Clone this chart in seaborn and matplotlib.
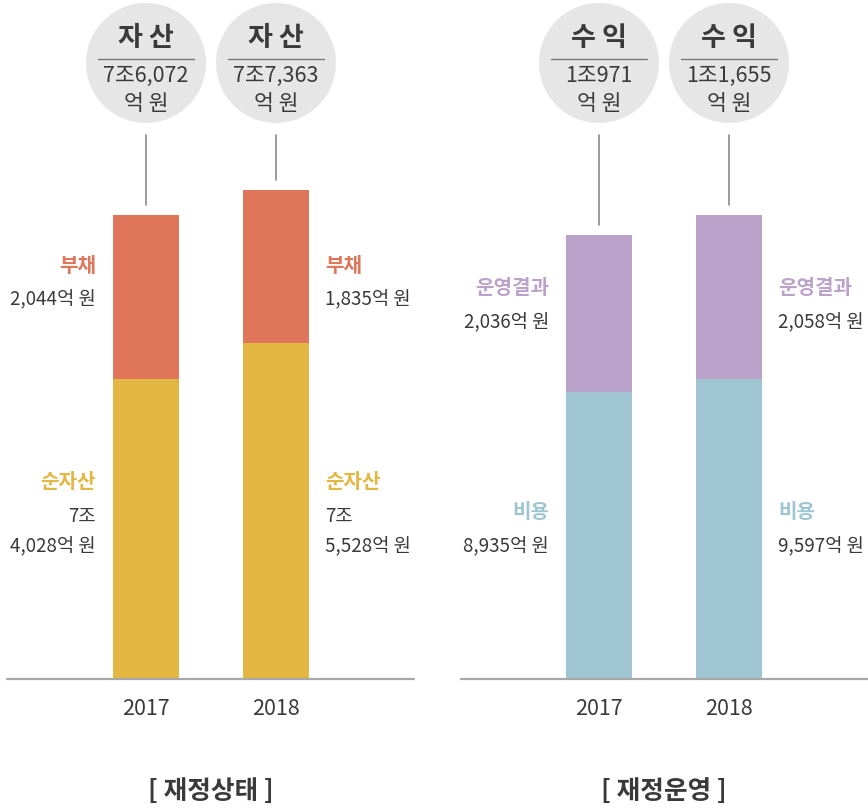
import matplotlib
matplotlib.use("Agg")
import matplotlib.pyplot as plt
import seaborn as sns
import pandas as pd

sns.set_theme(style="white")
plt.rcParams['font.family'] = ['Noto Sans CJK KR', 'DejaVu Sans']

# ---------------- data ----------------
years = ["2017", "2018"]

# 재정상태 (bar segment heights as drawn in the original, not to scale)
net_assets_h = [300, 336]
liabilities_h = [164, 153]
state_total_labels = ["7조6,072\n억 원", "7조7,363\n억 원"]
state_top_name = "부채"
state_bottom_name = "순자산"
liabilities_labels = ["2,044억 원", "1,835억 원"]
net_assets_labels = ["7조\n4,028억 원", "7조\n5,528억 원"]
state_circle_title = "자 산"
state_title = "[ 재정상태 ]"

# 재정운영
cost_h = [287, 300]
result_h = [157, 164]
op_total_labels = ["1조971\n억 원", "1조1,655\n억 원"]
op_top_name = "운영결과"
op_bottom_name = "비용"
result_labels = ["2,036억 원", "2,058억 원"]
cost_labels = ["8,935억 원", "9,597억 원"]
op_circle_title = "수 익"
op_title = "[ 재정운영 ]"

# ---------------- style ----------------
ORANGE = "#DF765A"
YELLOW = "#E3B741"
PURPLE = "#BBA2CB"
BLUE = "#9FC4D2"
CIRCLE = "#E6E6E6"
TEXT = "#3a3a3a"
LINE = "#8a8a8a"
BASE = "#A8A8A8"

W, H = 868, 808
BASE_Y = 679          # baseline pixel row
SPACING = 130.0       # px between bar centres
BAR_W = 66.0

fig = plt.figure(figsize=(W / 100, H / 100), dpi=100)
fig.patch.set_facecolor("white")


def panel(ax_left_px, centre0_px, bottom_h, top_h, bottom_col, top_col,
          total_labels, circle_title, top_name, bottom_name,
          top_vals, bottom_vals, top_name_y, bottom_name_y, title):
    ax = fig.add_axes([ax_left_px / W, (H - BASE_Y) / H, 407 / W, BASE_Y / H])
    dx = lambda px: (px - centre0_px) / SPACING
    dy = lambda py: BASE_Y - py

    totals = [b + t for b, t in zip(bottom_h, top_h)]
    df = pd.DataFrame({"year": years, "bottom": bottom_h, "total": totals})
    sns.barplot(data=df, x="year", y="total", color=top_col, saturation=1,
                width=BAR_W / SPACING, ax=ax, zorder=2,
                edgecolor="none", linewidth=0)
    sns.barplot(data=df, x="year", y="bottom", color=bottom_col, saturation=1,
                width=BAR_W / SPACING, ax=ax, zorder=2,
                edgecolor="none", linewidth=0)

    left_lim = dx(ax_left_px)
    ax.set_xlim(left_lim, left_lim + 407 / SPACING)
    ax.set_ylim(0, BASE_Y)
    for s in ax.spines.values():
        s.set_visible(False)
    ax.set_yticks([])
    ax.set_xlabel("")
    ax.set_ylabel("")
    ax.tick_params(axis="x", length=0, pad=14, labelsize=15.5, labelcolor=TEXT)
    ax.axhline(0, color=BASE, lw=1.6, zorder=3, clip_on=False)

    circ_cy = 63
    for i, (tot, lab) in enumerate(zip(totals, total_labels)):
        ax.scatter([i], [dy(circ_cy)], s=(120 * 0.72) ** 2, color=CIRCLE,
                   edgecolors="none", clip_on=False, zorder=1)
        ax.plot([i, i], [dy(135), tot + 10], color=LINE, lw=1.2,
                clip_on=False, zorder=2)
        ax.text(i, dy(38), circle_title, ha="center", va="center",
                fontsize=19.5, fontweight="bold", color=TEXT, zorder=4)
        ax.plot([i - 48 / SPACING, i + 48 / SPACING], [dy(59), dy(59)],
                color="#777777", lw=1.0, clip_on=False, zorder=4)
        for k, line in enumerate(lab.split("\n")):
            ax.text(i, dy(76 + 28 * k), line, ha="center", va="center",
                    fontsize=15.5, color=TEXT, zorder=4)

    # side labels: 2017 on the left of its bar, 2018 on the right of its bar
    xs = [dx(centre0_px - 33 - 17), dx(centre0_px + SPACING + 33 + 16)]
    has = ["right", "left"]
    for i in range(2):
        ax.text(xs[i], dy(top_name_y), top_name, ha=has[i], va="center",
                fontsize=14.5, fontweight="bold", color=top_col)
        for k, line in enumerate(top_vals[i].split("\n")):
            ax.text(xs[i], dy(top_name_y + 35 + 30 * k), line, ha=has[i],
                    va="center", fontsize=13.5, color=TEXT)
        ax.text(xs[i], dy(bottom_name_y), bottom_name, ha=has[i], va="center",
                fontsize=14.5, fontweight="bold", color=bottom_col)
        for k, line in enumerate(bottom_vals[i].split("\n")):
            ax.text(xs[i], dy(bottom_name_y + 35 + 30 * k), line, ha=has[i],
                    va="center", fontsize=13.5, color=TEXT)

    ax.text(dx(centre0_px + SPACING / 2), dy(791), title, ha="center",
            va="center", fontsize=18.5, fontweight="bold", color=TEXT,
            clip_on=False)
    return ax


panel(7, 146, net_assets_h, liabilities_h, YELLOW, ORANGE,
      state_total_labels, state_circle_title, state_top_name,
      state_bottom_name, liabilities_labels, net_assets_labels,
      265, 482, state_title)

panel(461, 599, cost_h, result_h, BLUE, PURPLE,
      op_total_labels, op_circle_title, op_top_name,
      op_bottom_name, result_labels, cost_labels,
      288, 512, op_title)

fig.savefig("out.png", dpi=100, facecolor="white")
